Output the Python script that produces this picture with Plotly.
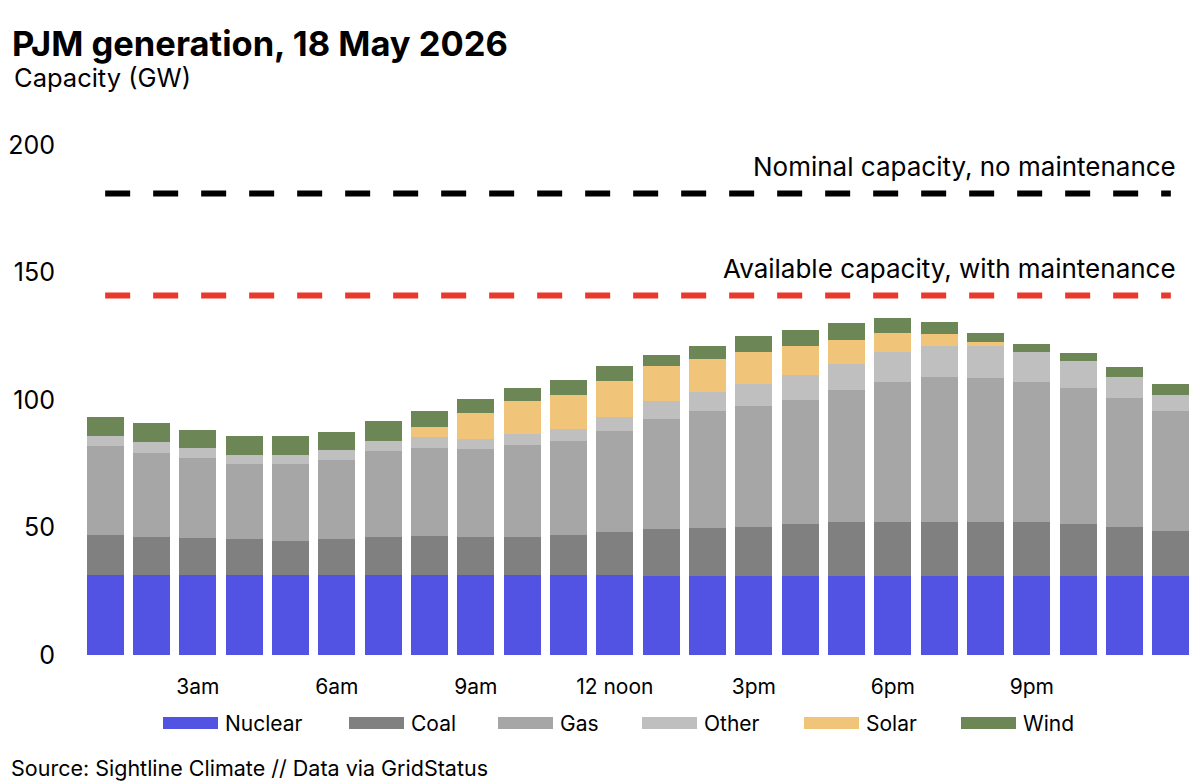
import plotly.graph_objects as go

hours = list(range(1, 25))
tick_vals = [3, 6, 9, 12, 15, 18, 21]
tick_text = ["3am", "6am", "9am", "12 noon", "3pm", "6pm", "9pm"]

nuclear = [31.5] * 12 + [31.1] * 12
coal = [15.6, 14.7, 14.3, 13.8, 13.4, 13.8, 14.7, 15.1, 14.7, 14.7, 15.6, 16.9,
        18.2, 18.6, 19.1, 20.4, 20.9, 21.2, 21.2, 21.2, 21.2, 20.3, 19.0, 17.7]
gas = [34.9, 33.2, 31.4, 29.8, 30.2, 31.3, 33.8, 34.5, 34.5, 36.2, 36.9, 39.5,
       43.4, 46.1, 47.3, 48.5, 51.8, 54.9, 56.6, 56.2, 54.9, 53.2, 50.7, 46.9]
other = [3.7, 4.2, 3.8, 3.5, 3.5, 3.6, 4.0, 4.3, 4.2, 4.2, 4.7, 5.5,
         6.9, 7.4, 8.7, 9.7, 10.4, 11.7, 12.2, 12.7, 11.7, 10.6, 8.3, 6.1]
solar = [0, 0, 0, 0, 0, 0, 0, 3.9, 9.9, 12.9, 13.4, 14.1,
         13.7, 12.9, 12.5, 11.6, 9.5, 7.3, 4.8, 1.7, 0, 0, 0, 0]
wind = [7.8, 7.3, 7.4, 7.2, 7.2, 7.3, 7.7, 6.3, 5.5, 5.4, 5.9, 6.0,
        4.5, 5.2, 6.4, 6.3, 6.4, 6.1, 4.6, 3.4, 3.1, 3.3, 3.9, 4.3]

nominal_capacity = 181
available_capacity = 141

series = [
    ("Nuclear", nuclear, "#5252E3"),
    ("Coal", coal, "#808080"),
    ("Gas", gas, "#A6A6A6"),
    ("Other", other, "#BFBFBF"),
    ("Solar", solar, "#F0C57A"),
    ("Wind", wind, "#6D8656"),
]

FONT = "Inter, Roboto, sans-serif"

fig = go.Figure()
for name, vals, color in series:
    fig.add_trace(go.Bar(x=hours, y=vals, name=name, marker_color=color,
                         marker_line_width=0, showlegend=False))

fig.add_trace(go.Scatter(x=[hours[0], hours[-1]], y=[nominal_capacity] * 2, mode="lines",
                         line=dict(color="black", width=6, dash="25px,23px"),
                         showlegend=False, hoverinfo="skip"))
fig.add_trace(go.Scatter(x=[hours[0], hours[-1]], y=[available_capacity] * 2, mode="lines",
                         line=dict(color="#E8392B", width=6, dash="25px,23px"),
                         showlegend=False, hoverinfo="skip"))

L, R, T, B = 82, 6, 145, 127
W, H = 1200, 782
pw = W - L - R
ph = H - T - B


def px_x(x):
    return (x - L) / pw


def px_y(y):
    return (H - B - y) / ph


annotations = [
    dict(text="<b>PJM generation, 18 May 2026</b>", x=px_x(10), y=px_y(43), xref="paper", yref="paper",
         xanchor="left", yanchor="middle", showarrow=False, font=dict(size=34.5, color="black", family=FONT)),
    dict(text="Capacity (GW)", x=px_x(12), y=px_y(77), xref="paper", yref="paper",
         xanchor="left", yanchor="middle", showarrow=False, font=dict(size=25.5, color="black", family=FONT)),
    dict(text="Source: Sightline Climate // Data via GridStatus", x=px_x(9), y=px_y(768), xref="paper", yref="paper",
         xanchor="left", yanchor="middle", showarrow=False, font=dict(size=21.5, color="black", family=FONT)),
    dict(text="Nominal capacity, no maintenance", x=px_x(1178), y=px_y(167), xref="paper", yref="paper",
         xanchor="right", yanchor="middle", showarrow=False, font=dict(size=26, color="black", family=FONT)),
    dict(text="Available capacity, with maintenance", x=px_x(1178), y=px_y(268), xref="paper", yref="paper",
         xanchor="right", yanchor="middle", showarrow=False, font=dict(size=26, color="black", family=FONT)),
]

shapes = []
legend_x = [163, 349, 498, 642, 804, 961]
for (name, vals, color), lx in zip(series, legend_x):
    shapes.append(dict(type="rect", xref="paper", yref="paper",
                       x0=px_x(lx), x1=px_x(lx + 55), y0=px_y(729), y1=px_y(717),
                       fillcolor=color, line_width=0))
    annotations.append(dict(text=name, x=px_x(lx + 60), y=px_y(723), xref="paper", yref="paper",
                            xanchor="left", yanchor="middle", showarrow=False,
                            font=dict(size=21, color="black", family=FONT)))

fig.update_layout(
    width=W, height=H,
    margin=dict(l=L, r=R, t=T, b=B, pad=0),
    barmode="stack", bargap=0.2,
    plot_bgcolor="white", paper_bgcolor="white",
    font=dict(family=FONT, color="black"),
    annotations=annotations, shapes=shapes,
    showlegend=False,
    xaxis=dict(range=[0.5, 24.5], tickvals=tick_vals, ticktext=tick_text, showgrid=False,
               zeroline=False, showline=False, ticks="", tickfont=dict(size=21, color="black"),
               ticklabelstandoff=17),
    yaxis=dict(range=[0, 200], tickvals=[0, 50, 100, 150, 200], showgrid=False, zeroline=False,
               showline=False, ticks="", tickfont=dict(size=25, color="black"),
               ticklabelstandoff=26),
)

fig.write_html("out.html")
